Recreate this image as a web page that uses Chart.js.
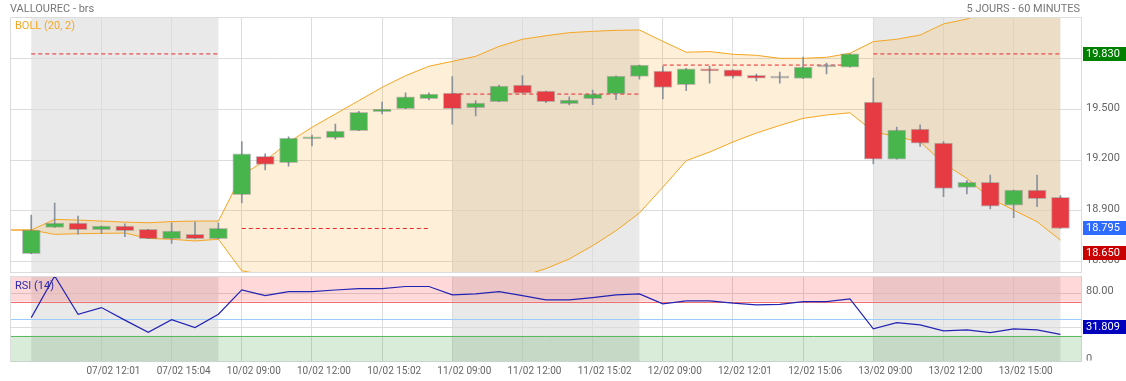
<!DOCTYPE html>
<html><head><meta charset="utf-8">
<script src="https://cdn.jsdelivr.net/npm/chart.js@4/dist/chart.umd.min.js"></script>
<style>
html,body{margin:0;padding:0;background:#fff;width:1126px;height:381px;overflow:hidden}
#c1{position:absolute;left:0;top:0}
#c2{position:absolute;left:0;top:273px}
</style></head><body>
<canvas id="c1" width="1126" height="273"></canvas>
<canvas id="c2" width="1126" height="108"></canvas>
<script>
// ---------- DATA ----------
const times = [
 '07/02 09:00','07/02 10:00','07/02 11:00','07/02 12:01','07/02 13:00','07/02 14:00','07/02 15:04','07/02 16:00','07/02 17:00',
 '10/02 09:00','10/02 10:00','10/02 11:00','10/02 12:00','10/02 13:00','10/02 14:00','10/02 15:02','10/02 16:00','10/02 17:00',
 '11/02 09:00','11/02 10:00','11/02 11:00','11/02 12:00','11/02 13:00','11/02 14:00','11/02 15:02','11/02 16:00','11/02 17:00',
 '12/02 09:00','12/02 10:00','12/02 11:00','12/02 12:01','12/02 13:00','12/02 14:00','12/02 15:06','12/02 16:00','12/02 17:00',
 '13/02 09:00','13/02 10:00','13/02 11:00','13/02 12:00','13/02 13:00','13/02 14:00','13/02 15:00','13/02 16:00','13/02 17:00'
];
const open  = [18.645,18.802,18.827,18.788,18.809,18.790,18.734,18.760,18.734, 18.995,19.223,19.185,19.327,19.333,19.375,19.487,19.505,19.565, 19.598,19.511,19.547,19.646,19.610,19.535,19.565,19.594,19.697, 19.729,19.648,19.742,19.736,19.703,19.687,19.685,19.753,19.752, 19.544,19.206,19.384,19.301,19.039,19.069,18.933,19.022,18.980];
const high  = [18.875,18.946,18.869,18.809,18.823,18.790,18.829,18.835,18.829, 19.310,19.237,19.339,19.349,19.414,19.490,19.545,19.600,19.600, 19.695,19.553,19.646,19.701,19.610,19.575,19.616,19.699,19.764, 19.757,19.745,19.757,19.736,19.710,19.723,19.812,19.776,19.830, 19.687,19.396,19.410,19.310,19.079,19.112,19.022,19.112,18.990];
const low   = [18.645,18.802,18.762,18.766,18.746,18.734,18.707,18.734,18.734, 18.946,19.143,19.165,19.284,19.325,19.375,19.474,19.505,19.557, 19.414,19.462,19.547,19.597,19.541,19.527,19.529,19.559,19.681, 19.563,19.612,19.657,19.687,19.670,19.657,19.685,19.711,19.752, 19.178,19.206,19.281,18.984,19.000,18.911,18.859,18.924,18.795];
const close = [18.786,18.827,18.788,18.809,18.782,18.734,18.780,18.734,18.796, 19.237,19.175,19.331,19.337,19.373,19.484,19.503,19.575,19.592, 19.505,19.539,19.640,19.597,19.547,19.557,19.592,19.699,19.764, 19.632,19.741,19.730,19.697,19.687,19.689,19.752,19.755,19.830, 19.206,19.378,19.301,19.033,19.069,18.927,19.022,18.972,18.795];
const bollPrev = 18.786;
const bollUpper = [18.786,18.849,18.845,18.839,18.833,18.829,18.836,18.839,18.839, 19.112,19.197,19.306,19.395,19.474,19.553,19.632,19.701,19.757, 19.786,19.816,19.875,19.917,19.938,19.956,19.964,19.970,19.972, 19.905,19.840,19.844,19.828,19.822,19.804,19.804,19.810,19.834, 19.903,19.917,19.942,20.008,20.037,20.090,20.130,20.160,20.190];
const bollLower = [18.786,18.760,18.764,18.766,18.768,18.736,18.731,18.721,18.731, 18.544,18.519,18.489,18.460,18.442,18.430,18.424,18.424,18.430, 18.442,18.460,18.483,18.513,18.557,18.614,18.693,18.782,18.887, 19.039,19.197,19.248,19.308,19.361,19.406,19.448,19.468,19.481, 19.369,19.339,19.309,19.181,19.092,18.974,18.904,18.835,18.726];
const rsi = [51.3,100,55.3,63.1,48.4,34.2,49.0,39.6,55.3, 83.8,77.1,81.8,81.8,83.6,85.3,85.3,87.7,87.7, 78.0,79.1,81.8,77.1,72.1,72.1,74.8,78.0,79.1, 67.4,70.9,70.9,68.2,66.2,66.8,70.1,70.1,73.3, 38.1,45.5,42.8,35.8,36.9,33.8,38.1,36.9,31.809];
const prevClose = [19.830, 18.795, 19.592, 19.764, 19.830];   // per day reference level
const shadedDays = ['07/02','11/02','13/02'];
const priceTags = [19.830, 18.795, 18.650];
const rsiLast = 31.809;
const rsiZones = [30, 50, 70];
const yTicks = [18.6, 18.9, 19.2, 19.5, 19.8];
const rsiTicks = [0, 40, 80];
const xTickIdx = [3,6,9,12,15,18,21,24,27,30,33,36,39,42];
const title = 'VALLOUREC - brs';
const subtitle = '5 JOURS - 60 MINUTES';
const bollLabel = 'BOLL (20, 2)';
const rsiLabel = 'RSI (14)';

// ---------- derived ----------
const dayNames = [...new Set(times.map(t => t.slice(0,5)))];
const dayRanges = dayNames.map(d => {
  const ids = times.map((t,i) => t.startsWith(d) ? i : -1).filter(i => i >= 0);
  return [ids[0], ids[ids.length-1]];
});
const X_MIN = -0.91, X_MAX = 44.9;
const FONT = "Roboto, 'Noto Sans', sans-serif";
Chart.defaults.font.family = FONT;
const GRID = '#dcdcdc';
const GREEN = '#47b54c', RED = '#e63b42', GRAY = '#8a939c';
const noPad = s => { s.paddingTop = 0; s.paddingBottom = 0; s.paddingLeft = 0; s.paddingRight = 0; };

function shadePlugin(id){
  return { id, beforeDraw(chart){
    const {ctx, chartArea:a, scales:{x}} = chart;
    ctx.save();
    ctx.fillStyle = '#fff'; ctx.fillRect(0,0,chart.width,chart.height);
    ctx.fillStyle = '#e9e9e9';
    dayRanges.forEach((r,k) => {
      if (!shadedDays.includes(dayNames[k])) return;
      const x0 = x.getPixelForValue(r[0]), x1 = x.getPixelForValue(r[1]);
      ctx.fillRect(x0, a.top, x1-x0, a.bottom-a.top);
    });
    ctx.restore();
  },
  afterDatasetsDraw(chart){
    const {ctx, chartArea:a} = chart;
    ctx.save(); ctx.strokeStyle = GRID; ctx.lineWidth = 1;
    ctx.beginPath();
    ctx.moveTo(a.left+0.5, a.bottom); ctx.lineTo(a.left+0.5, a.top+0.5); ctx.lineTo(a.right, a.top+0.5);
    ctx.stroke(); ctx.restore();
  }};
}

function tag(ctx, y, bg, text){
  ctx.fillStyle = bg;
  ctx.fillRect(1083, Math.round(y) - 7, 43, 14);
  ctx.fillStyle = '#fff';
  ctx.font = '11px ' + FONT;
  ctx.textBaseline = 'middle'; ctx.textAlign = 'left';
  ctx.fillText(text, 1086, Math.round(y) + 0.5);
}

const textPlugin = { id:'texts', afterDraw(chart){
  const {ctx, scales:{y}} = chart;
  ctx.save();
  ctx.font = '11px ' + FONT; ctx.textBaseline = 'middle';
  ctx.fillStyle = '#777'; ctx.textAlign = 'left';
  ctx.fillText(title, 10, 9.5);
  ctx.textAlign = 'right';
  ctx.fillText(subtitle, 1080, 9.5);
  ctx.textAlign = 'left'; ctx.fillStyle = '#f5a623';
  ctx.fillText(bollLabel, 15, 26);
  const cols = ['#008000', '#2f6bff', '#c80000'];
  priceTags.forEach((v,k) => tag(ctx, y.getPixelForValue(v), cols[k], v.toFixed(3)));
  ctx.restore();
}};

// ---------- main chart ----------
const dashSets = dayRanges.map((r,k) => ({
  type:'line', data:[{x:r[0], y:prevClose[k]}, {x:r[1], y:prevClose[k]}],
  borderColor:'#e8282b', borderWidth:1, borderDash:[4,3], pointRadius:0, fill:false, order:2
}));
const upperData = [{x:-1, y:bollPrev}, ...bollUpper.map((v,i) => ({x:i, y:v}))];
const lowerData = [{x:-1, y:bollPrev}, ...bollLower.map((v,i) => ({x:i, y:v}))];
const wickData = times.map((t,i) => ({x:i, y:[low[i], high[i]]}));
const bodyData = times.map((t,i) => ({x:i, y:[open[i], close[i]]}));
function bodyColor(i){
  if (Math.abs(close[i]-open[i]) < 0.004) return GRAY;
  return close[i] >= open[i] ? GREEN : RED;
}

new Chart(document.getElementById('c1'), {
  type: 'bar',
  data: { datasets: [
    { type:'line', data: upperData, borderColor:'#f5a623', borderWidth:1, pointRadius:0,
      fill:'+1', backgroundColor:'rgba(247,166,40,0.18)', tension:0, order:4 },
    { type:'line', data: lowerData, borderColor:'#f5a623', borderWidth:1, pointRadius:0,
      fill:false, tension:0, order:3 },
    { type:'bar', data: wickData, backgroundColor: GRAY, barThickness:1, grouped:false, order:1 },
    { type:'bar', data: bodyData, backgroundColor: c => bodyColor(c.dataIndex),
      borderColor:'rgba(90,90,100,0.35)', borderWidth:1, borderSkipped:false,
      barThickness:18, minBarLength:2, grouped:false, order:0 },
    ...dashSets
  ]},
  options: {
    responsive:false, animation:false, devicePixelRatio:1,
    layout:{ padding:{ left:10, top:17, right:0, bottom:1 } },
    plugins:{ legend:{display:false}, tooltip:{enabled:false}, title:{display:false} },
    scales:{
      x:{ type:'linear', min:X_MIN, max:X_MAX, offset:false,
          afterBuildTicks: s => { s.ticks = xTickIdx.map(v => ({value:v})); },
          afterFit: s => { s.height = 0; noPad(s); },
          ticks:{ display:false }, grid:{ color:GRID, drawTicks:false, offset:false }, border:{ color:GRID } },
      y:{ position:'right', min:18.537, max:20.049,
          afterBuildTicks: s => { s.ticks = yTicks.map(v => ({value:v})); },
          afterFit: s => { s.width = 44.5; noPad(s); },
          ticks:{ padding:4.5, labelOffset:-1.5, color:'#666', font:{size:11, family:FONT}, callback: v => Number(v).toFixed(3) },
          grid:{ color:GRID, drawTicks:false }, border:{ color:GRID } }
    }
  },
  plugins:[shadePlugin('shade1'), textPlugin]
});

// ---------- RSI chart ----------
const rsiZonePlugin = { id:'rsiZones', beforeDatasetsDraw(chart){
  const {ctx, chartArea:a, scales:{y}} = chart;
  ctx.save();
  const yy = v => y.getPixelForValue(v);
  ctx.fillStyle = 'rgba(255,0,0,0.15)';
  ctx.fillRect(a.left, a.top, a.right-a.left, yy(rsiZones[2]) - a.top);
  ctx.fillStyle = 'rgba(0,128,0,0.15)';
  ctx.fillRect(a.left, yy(rsiZones[0]), a.right-a.left, a.bottom - yy(rsiZones[0]));
  const cols = ['#5cb85c', '#9ccbff', '#f07070'];
  rsiZones.forEach((v,k) => {
    ctx.strokeStyle = cols[k]; ctx.lineWidth = 1;
    const p = Math.round(yy(v)) + 0.5;
    ctx.beginPath(); ctx.moveTo(a.left, p); ctx.lineTo(a.right, p); ctx.stroke();
  });
  ctx.restore();
}, afterDraw(chart){
  const {ctx, scales:{y}} = chart;
  ctx.save();
  ctx.fillStyle = '#fff'; ctx.fillRect(1083, 87.5, 43, 20);
  ctx.font = '11px ' + FONT; ctx.textBaseline = 'middle'; ctx.textAlign = 'left';
  ctx.fillStyle = '#2b2bb0';
  ctx.fillText(rsiLabel, 15, 13);
  tag(ctx, y.getPixelForValue(rsiLast) - 7, '#0000bd', rsiLast.toFixed(3));
  ctx.restore();
}};

new Chart(document.getElementById('c2'), {
  type: 'line',
  data: { datasets: [
    { data: rsi.map((v,i) => ({x:i, y:v})), borderColor:'#2323b4', borderWidth:1.2,
      pointRadius:0, fill:false, tension:0 }
  ]},
  options: {
    responsive:false, animation:false, devicePixelRatio:1,
    layout:{ padding:{ left:10, top:3, right:0, bottom:0 } },
    plugins:{ legend:{display:false}, tooltip:{enabled:false} },
    scales:{
      x:{ type:'linear', min:X_MIN, max:X_MAX, offset:false,
          afterBuildTicks: s => { s.ticks = xTickIdx.map(v => ({value:v})); },
          afterFit: s => { s.height = 19.5; noPad(s); },
          ticks:{ padding:4, labelOffset:12, color:'#666', maxRotation:0, autoSkip:false, font:{size:10, family:FONT},
                  callback: v => times[v] },
          grid:{ color:GRID, drawTicks:false }, border:{ color:GRID } },
      y:{ position:'right', min:0, max:100,
          afterBuildTicks: s => { s.ticks = rsiTicks.map(v => ({value:v})); },
          afterFit: s => { s.width = 44.5; noPad(s); },
          ticks:{ padding:4.5, labelOffset:-2, color:'#666', font:{size:11, family:FONT},
                  callback: v => v === 0 ? '0' : Number(v).toFixed(2) },
          grid:{ color:GRID, drawTicks:false }, border:{ color:GRID } }
    }
  },
  plugins:[shadePlugin('shade2'), rsiZonePlugin]
});
</script></body></html>
